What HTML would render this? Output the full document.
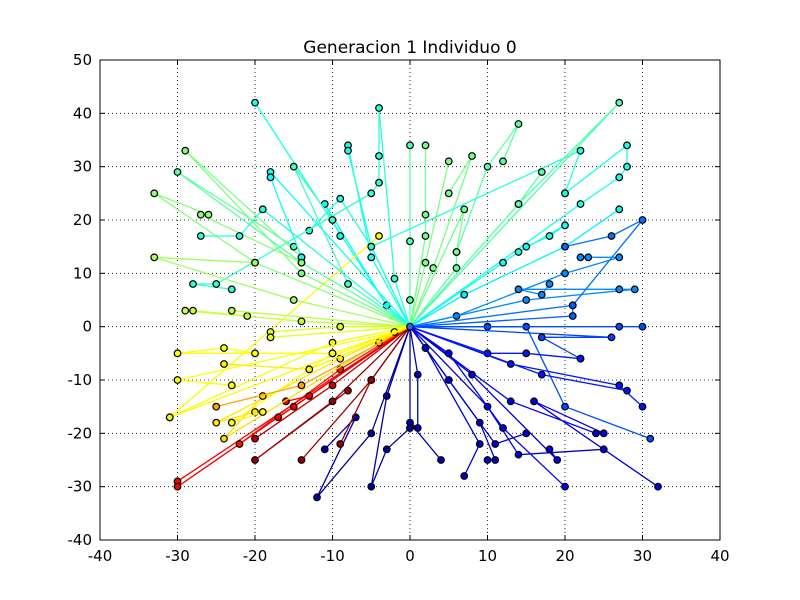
<!DOCTYPE html>
<html><head><meta charset="utf-8"><style>
html,body{margin:0;padding:0;background:#fff;}
svg{display:block;font-family:"DejaVu Sans","Liberation Sans",sans-serif;}
</style></head><body>
<svg id="chart" width="800" height="600" viewBox="0 0 800 600" xmlns="http://www.w3.org/2000/svg">
<rect x="0" y="0" width="800" height="600" fill="#fff"/>
<text x="410" y="53" font-size="17" text-anchor="middle">Generacion 1 Individuo 0</text>
<g id="grid"></g><g id="marks"></g><g id="axes"></g>
</svg>
<script>
const xTicks=[-40,-30,-20,-10,0,10,20,30,40];
const yTicks=[-40,-30,-20,-10,0,10,20,30,40,50];
const chains=[
[[0,0],[-3,4],[-20,42]],
[[0,0],[-3,4],[-11,23],[-9,17]],
[[0,0],[-5,13],[-8,34],[-8,33],[-5,15]],
[[0,0],[-5,15],[-9,24],[-13,18]],
[[0,0],[-2,9],[-4,41],[-4,32],[-4,27],[-5,25],[-25,8],[-28,8],[-23,7]],
[[0,0],[-31,-17],[-4,17]],
[[0,0],[-8,8],[-15,30],[-10,20]],
[[0,0],[-14,10],[-29,33],[-14,13]],
[[0,0],[-14,12],[-30,29],[-15,15]],
[[0,0],[-18,29],[-18,28],[-14,13]],
[[0,0],[-20,12],[-33,25],[-26,21],[-27,21],[-14,12]],
[[0,0],[-15,5],[-33,13],[-20,12]],
[[0,0],[-19,22],[-22,17],[-27,17]],
[[0,0],[-14,1],[-29,3],[-28,3],[-21,2]],
[[0,0],[-23,3]],
[[0,0],[-9,0],[-18,-1]],
[[0,0],[-18,-2]],
[[0,0],[0,5],[0,16],[0,34]],
[[0,0],[2,17],[2,34],[2,21]],
[[0,0],[2,12],[5,31]],
[[0,0],[3,11],[8,32],[5,25]],
[[0,0],[6,11],[6,14],[10,30],[14,38],[12,31]],
[[0,0],[7,22],[6,14]],
[[0,0],[-5,15],[22,33],[20,25]],
[[0,0],[14,23],[17,29]],
[[0,0],[27,42],[14,23]],
[[0,0],[22,23],[27,28],[28,30],[28,34],[20,25]],
[[0,0],[12,12],[14,14],[20,19],[18,17],[15,15]],
[[0,0],[7,6],[20,15],[27,22]],
[[0,0],[6,2],[20,10],[27,13],[22,13],[23,13]],
[[0,0],[15,5],[29,7],[27,7],[14,7],[17,6],[18,8]],
[[0,0],[21,4],[30,20],[26,17],[20,15]],
[[0,0],[21,2],[21,4]],
[[0,0],[10,0],[15,0],[20,-15],[31,-21]],
[[0,0],[30,0],[27,0]],
[[0,0],[26,-2],[17,-2],[22,-6]],
[[0,0],[10,-5],[15,-5],[22,-6]],
[[0,0],[13,-7],[27,-11],[30,-15]],
[[0,0],[17,-9],[28,-12]],
[[0,0],[13,-14],[24,-20],[25,-20],[16,-14],[32,-30]],
[[0,0],[10,-15],[14,-24],[25,-23]],
[[0,0],[8,-9],[19,-25],[18,-23]],
[[0,0],[5,-5],[12,-19],[20,-30]],
[[0,0],[5,-10],[11,-22],[15,-20]],
[[0,0],[2,-4],[9,-18],[11,-25],[10,-25]],
[[0,0],[2,-4],[9,-22],[7,-28]],
[[0,0],[1,-9],[1,-19],[0,-18],[4,-25]],
[[0,0],[0,-19]],
[[0,0],[-30,-29]],
[[0,0],[-30,-30]],
[[0,0],[-9,-8],[-22,-22]],
[[0,0],[-13,-13],[-16,-14]],
[[0,0],[-15,-15],[-17,-17]],
[[0,0],[-10,-11],[-20,-21]],
[[0,0],[-10,-14],[-20,-25],[-8,-12]],
[[0,0],[-5,-10],[-14,-25]],
[[0,0],[-9,-6],[-25,-18],[-20,-16]],
[[0,0],[-4,-3],[-24,-21],[-19,-13]],
[[0,0],[-10,-5],[-23,-18],[-19,-16]],
[[0,0],[-14,-11],[-25,-15]],
[[0,0],[-10,-3],[-31,-17]],
[[0,0],[-2,-1],[-30,-10],[-23,-11]],
[[0,0],[-13,-8],[-24,-7]],
[[0,0],[-10,-5],[-30,-5],[-24,-4],[-20,-5]],
[[0,0],[-3,-13],[-5,-30],[-3,-23],[0,-19]],
[[0,0],[-5,-20],[-12,-32],[-7,-17],[-11,-23]],
[[0,0],[-5,-10],[-9,-22]]
];
const L=100,R=720,T=60,B=540,XMIN=-40,XMAX=40,YMIN=-40,YMAX=50;
function sx(v){return L+(v-XMIN)/(XMAX-XMIN)*(R-L);}
function sy(v){return B-(v-YMIN)/(YMAX-YMIN)*(B-T);}
const NS='http://www.w3.org/2000/svg';
function mk(tag,attrs,parent){const e=document.createElementNS(NS,tag);for(const k in attrs)e.setAttribute(k,attrs[k]);parent.appendChild(e);return e;}
function cl(v){return Math.max(0,Math.min(1,v));}
function jet(t){const r=cl(1.5-Math.abs(4*t-3)),g=cl(1.5-Math.abs(4*t-2)),b=cl(1.5-Math.abs(4*t-1));return 'rgb('+Math.round(r*255)+','+Math.round(g*255)+','+Math.round(b*255)+')';}
const aA=[-113,-60,0,30,55,80,100,125,145,170,185,205,217,221,226,230,247];
const aT=[0.02,0.08,0.2,0.3,0.45,0.5,0.42,0.38,0.5,0.55,0.6,0.62,0.66,0.85,0.9,0.97,0.98];
function angT(p){let d=Math.atan2(p[1],p[0])*180/Math.PI;if(d<-113)d+=360;for(let i=0;i<aA.length-1;i++){if(d<=aA[i+1]){return aT[i]+(aT[i+1]-aT[i])*(d-aA[i])/(aA[i+1]-aA[i]);}}return 0.98;}
const grid=document.getElementById('grid'),marks=document.getElementById('marks'),axes=document.getElementById('axes');
xTicks.forEach(v=>{
 const l=mk('line',{x1:sx(v),x2:sx(v),y1:T,y2:B,stroke:'#000','stroke-width':0.8,'stroke-dasharray':'1,3'},grid);
 
 
 mk('line',{x1:sx(v),x2:sx(v),y1:B,y2:B-5,stroke:'#000'},axes);
 mk('line',{x1:sx(v),x2:sx(v),y1:T,y2:T+5,stroke:'#000'},axes);
 const tx=mk('text',{x:sx(v),y:B+21,'font-size':15,'text-anchor':'middle'},axes);
 tx.textContent=v;
 
 
});
yTicks.forEach(v=>{
 const l=mk('line',{x1:L,x2:R,y1:sy(v),y2:sy(v),stroke:'#000','stroke-width':0.8,'stroke-dasharray':'1,3'},grid);
 
 
 mk('line',{x1:L,x2:L+5,y1:sy(v),y2:sy(v),stroke:'#000'},axes);
 mk('line',{x1:R,x2:R-5,y1:sy(v),y2:sy(v),stroke:'#000'},axes);
 const tx=mk('text',{x:L-8,y:sy(v)+5,'font-size':15,'text-anchor':'end'},axes);
 tx.textContent=v;
 
 
});
const frame=mk('rect',{x:L,y:T,width:R-L,height:B-T,fill:'none',stroke:'#000','stroke-width':1},axes);


chains.forEach(ch=>{
 const c=jet(angT(ch[1]));
 const pl=mk('polyline',{points:ch.map(p=>sx(p[0])+','+sy(p[1])).join(' '),fill:'none',stroke:c,'stroke-width':1.3},marks);
 
 
 ch.slice(1).forEach(p=>{
  const m=mk('circle',{cx:sx(p[0]),cy:sy(p[1]),r:3.3,fill:c,stroke:'#000','stroke-width':1.2},marks);
  
  
 });
});
const o=mk('circle',{cx:sx(0),cy:sy(0),r:3.3,fill:'#1e6cff',stroke:'#000','stroke-width':1.2},marks);


</script>
</body></html>
